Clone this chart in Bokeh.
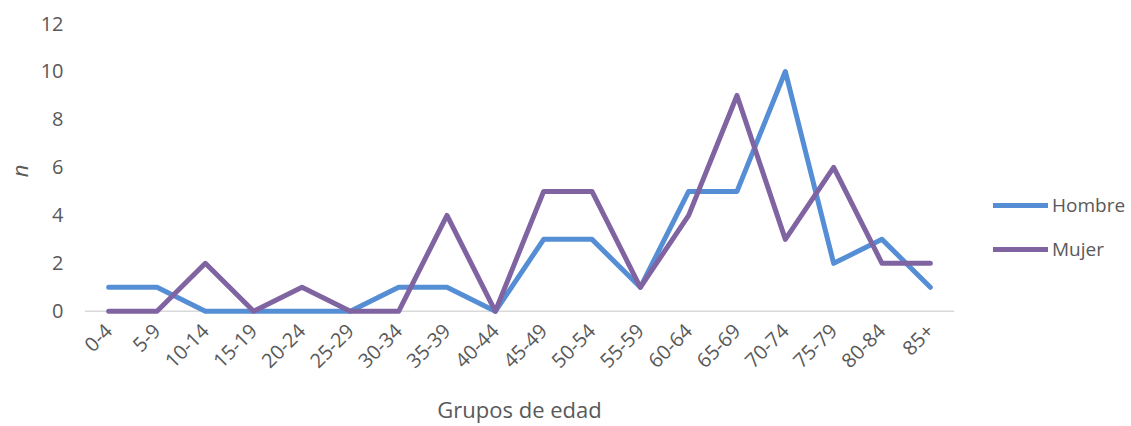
from bokeh.plotting import figure
from bokeh.models import Range1d, FixedTicker, Span, Legend, LegendItem
from bokeh.embed import file_html
from bokeh.resources import INLINE
import math

groups = ["0-4", "5-9", "10-14", "15-19", "20-24", "25-29", "30-34", "35-39", "40-44",
          "45-49", "50-54", "55-59", "60-64", "65-69", "70-74", "75-79", "80-84", "85+"]
hombre = [1, 1, 0, 0, 0, 0, 1, 1, 0, 3, 3, 1, 5, 5, 10, 2, 3, 1]
mujer = [0, 0, 2, 0, 1, 0, 0, 4, 0, 5, 5, 1, 4, 9, 3, 6, 2, 2]
y_ticks = [0, 2, 4, 6, 8, 10, 12]

FONT = "Open Sans"
TXT = "#595959"

p = figure(x_range=groups, y_range=Range1d(-0.3, 12),
           frame_width=870, frame_height=295, output_backend="svg", toolbar_location=None,
           min_border_left=77, min_border_top=23, min_border_right=170, min_border_bottom=92)
p.outline_line_color = None
p.xgrid.grid_line_color = None
p.ygrid.grid_line_color = None
p.x_range.range_padding = 0

r1 = p.line(groups, hombre, line_color="#558ED5", line_width=5, line_join="round", line_cap="round")
r2 = p.line(groups, mujer, line_color="#8064A2", line_width=5, line_join="round", line_cap="round")

base = Span(location=0, dimension="width", line_color="#D9D9D9", line_width=1.5, level="underlay")
p.add_layout(base)

xa = p.xaxis[0]
xa.axis_line_color = None
xa.major_tick_line_color = None
xa.minor_tick_line_color = None
xa.major_label_orientation = math.pi / 4
xa.major_label_text_font = FONT
xa.major_label_text_font_size = "20px"
xa.major_label_text_color = TXT
xa.major_label_standoff = 3
xa.axis_label = "Grupos de edad"
xa.axis_label_text_font = FONT
xa.axis_label_text_font_size = "22px"
xa.axis_label_text_font_style = "normal"
xa.axis_label_text_color = TXT
xa.axis_label_standoff = 17

ya = p.yaxis[0]
ya.ticker = FixedTicker(ticks=y_ticks)
ya.axis_line_color = None
ya.major_tick_line_color = None
ya.minor_tick_line_color = None
ya.major_label_text_font = FONT
ya.major_label_text_font_size = "20px"
ya.major_label_text_color = TXT
ya.major_label_standoff = 15
ya.axis_label = "n"
ya.axis_label_text_font = FONT
ya.axis_label_text_font_size = "22px"
ya.axis_label_text_font_style = "italic"
ya.axis_label_text_color = TXT
ya.axis_label_standoff = 4

legend = Legend(items=[LegendItem(label="Hombre", renderers=[r1]),
                       LegendItem(label="Mujer", renderers=[r2])],
                location=(39, 56), orientation="vertical")
legend.glyph_width = 55
legend.glyph_height = 20
legend.label_height = 20
legend.label_standoff = 4
legend.spacing = 18
legend.padding = 0
legend.margin = 0
legend.border_line_color = None
legend.background_fill_alpha = 0
legend.label_text_font = FONT
legend.label_text_font_size = "19px"
legend.label_text_color = TXT
p.add_layout(legend, "right")

open("out.html", "w").write(file_html(p, INLINE))
